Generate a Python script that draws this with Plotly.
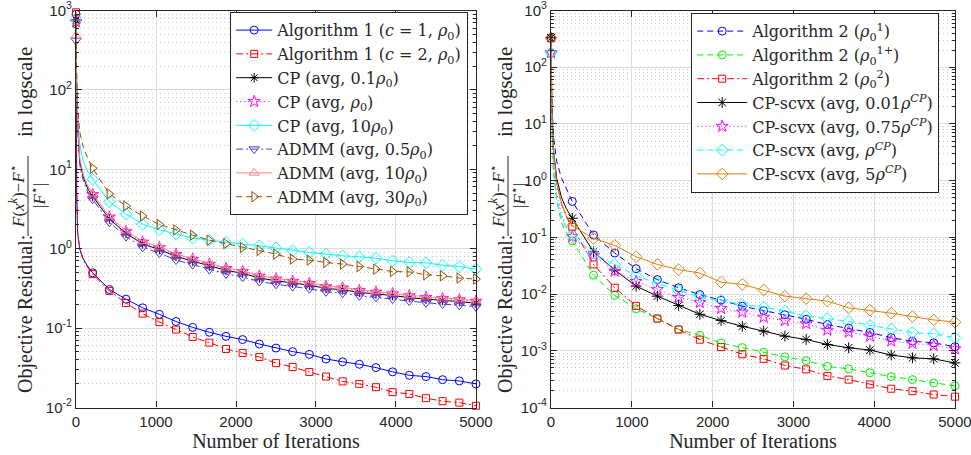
import plotly.graph_objects as go
from plotly.subplots import make_subplots

# ---------------- left panel: Algorithm 1 vs CP vs ADMM ----------------
# iterations where markers are drawn, plus a few early iterations for the steep drop
MARK_X_L = [0, 208, 417, 625, 833, 1042, 1250, 1458, 1667, 1875, 2083, 2292, 2500,
            2708, 2917, 3125, 3333, 3542, 3750, 3958, 4167, 4375, 4583, 4792, 5000]
EARLY_X_L = [3, 8, 20, 45, 90, 150]

alg1_c1 = [900, 0.497, 0.306, 0.231, 0.18, 0.149, 0.121, 0.102, 0.0885, 0.0787, 0.0716, 0.063, 0.056,
           0.0505, 0.0467, 0.0408, 0.0376, 0.035, 0.0318, 0.0281, 0.0254, 0.0245, 0.0224, 0.0216, 0.0198]
alg1_c1_early = [60, 5, 1.6, 1.0, 0.74, 0.59]
alg1_c2 = [950, 0.478, 0.294, 0.207, 0.152, 0.119, 0.0957, 0.0773, 0.0656, 0.0545, 0.0485, 0.0432, 0.0362,
           0.0323, 0.028, 0.0245, 0.0213, 0.0198, 0.018, 0.0156, 0.0148, 0.0131, 0.012, 0.0115, 0.0105]
alg1_c2_early = [70, 5.5, 1.6, 1.0, 0.72, 0.57]
cp_01 = [760, 4.55, 2.37, 1.56, 1.15, 0.975, 0.8, 0.698, 0.605, 0.534, 0.489, 0.428, 0.394,
         0.368, 0.347, 0.316, 0.304, 0.282, 0.27, 0.257, 0.242, 0.231, 0.223, 0.216, 0.206]
cp_01_early = [280, 110, 38, 13, 8.0, 5.6]
cp_1 = [720, 4.8, 2.5, 1.64, 1.21, 1.03, 0.845, 0.735, 0.637, 0.563, 0.515, 0.451, 0.415,
        0.388, 0.365, 0.333, 0.32, 0.297, 0.284, 0.27, 0.255, 0.243, 0.235, 0.227, 0.218]
cp_1_early = [250, 105, 40, 13.5, 8.4, 5.9]
cp_10 = [790, 7.5, 3.9, 2.73, 2.04, 1.73, 1.53, 1.36, 1.28, 1.2, 1.14, 1.09, 1.02,
         0.94, 0.896, 0.855, 0.813, 0.79, 0.76, 0.703, 0.67, 0.664, 0.621, 0.596, 0.553]
cp_10_early = [300, 140, 55, 21, 12.5, 9.2]
admm_05 = [420, 4.2, 2.15, 1.42, 1.04, 0.88, 0.72, 0.63, 0.545, 0.482, 0.44, 0.386, 0.356,
           0.333, 0.313, 0.286, 0.275, 0.255, 0.244, 0.232, 0.218, 0.208, 0.2, 0.194, 0.185]
admm_05_early = [170, 85, 32, 11.5, 7.2, 5.1]
admm_10 = [480, 4.9, 2.55, 1.68, 1.24, 1.05, 0.86, 0.75, 0.65, 0.574, 0.526, 0.46, 0.424,
           0.396, 0.373, 0.34, 0.327, 0.303, 0.29, 0.276, 0.26, 0.248, 0.24, 0.232, 0.222]
admm_10_early = [200, 100, 40, 14, 8.6, 6.0]
admm_30 = [700, 10.3, 4.9, 3.45, 2.57, 2.02, 1.72, 1.48, 1.28, 1.16, 1.035, 0.95, 0.855,
           0.74, 0.718, 0.67, 0.64, 0.596, 0.553, 0.516, 0.511, 0.469, 0.455, 0.426, 0.414]
admm_30_early = [320, 160, 65, 30, 19, 13.5]

# ---------------- right panel: Algorithm 2 vs CP-scvx ----------------
MARK_X_R = [0, 263, 526, 789, 1053, 1316, 1579, 1842, 2105, 2368,
            2632, 2895, 3158, 3421, 3684, 3947, 4211, 4474, 4737, 5000]
EARLY_X_R = [3, 10, 30, 70, 130, 190]

alg2_1 = [320, 0.43, 0.11, 0.053, 0.028, 0.018, 0.0129, 0.0098, 0.0078, 0.0061,
          0.0051, 0.0043, 0.0036, 0.0029, 0.0025, 0.0021, 0.0017, 0.00148, 0.00138, 0.00118]
alg2_1_early = [120, 25, 6, 2.2, 1.1, 0.7]
alg2_1p = [175, 0.087, 0.0215, 0.0095, 0.0055, 0.0037, 0.0024, 0.00187, 0.00137, 0.00114,
           0.00094, 0.00078, 0.00067, 0.00053, 0.00048, 0.00041, 0.00035, 0.00031, 0.00027, 0.00024]
alg2_1p_early = [50, 8, 1.4, 0.45, 0.18, 0.12]
alg2_2 = [330, 0.154, 0.0333, 0.0129, 0.0062, 0.0037, 0.00236, 0.00157, 0.00116, 0.00087,
          0.00072, 0.00055, 0.00047, 0.00036, 0.00031, 0.000255, 0.000214, 0.000194, 0.000169, 0.000155]
alg2_2_early = [90, 15, 3.0, 0.9, 0.38, 0.23]
scvx_001 = [330, 0.217, 0.0557, 0.0265, 0.0138, 0.0092, 0.0063, 0.0044, 0.0034, 0.0027,
            0.00222, 0.00181, 0.00158, 0.00129, 0.00113, 0.00103, 0.00084, 0.00075, 0.00072, 0.00061]
scvx_001_early = [100, 18, 3.5, 1.1, 0.5, 0.32]
scvx_075 = [180, 0.103, 0.0486, 0.0254, 0.0167, 0.012, 0.0087, 0.0071, 0.0056, 0.0048,
            0.0039, 0.0034, 0.003, 0.0023, 0.00213, 0.00181, 0.00148, 0.00135, 0.00124, 0.00108]
scvx_075_early = [60, 10, 2.0, 0.6, 0.25, 0.15]
scvx_1 = [180, 0.11, 0.052, 0.0333, 0.021, 0.0155, 0.0115, 0.0088, 0.0077, 0.0065,
          0.0059, 0.005, 0.0041, 0.0037, 0.0033, 0.0028, 0.0024, 0.0021, 0.002, 0.0017]
scvx_1_early = [50, 8, 1.5, 0.48, 0.22, 0.145]
scvx_5 = [330, 0.16, 0.096, 0.072, 0.0455, 0.0333, 0.027, 0.0235, 0.0162, 0.0148,
          0.0118, 0.0092, 0.0083, 0.0075, 0.0057, 0.0052, 0.0046, 0.004, 0.0035, 0.0032]
scvx_5_early = [110, 20, 3.5, 0.9, 0.4, 0.24]

W, H = 971, 455
SERIF = 'Liberation Serif'
LEG_FONT = 'DejaVu Serif'
SANS = 'Liberation Sans'
INK = '#262626'

DASH = '6px,4px'
DASHDOT = '7px,3px,2px,3px'
DOT = '1px,3px'


def px(x):
    return x / W


def py(y):
    return 1 - y / H


fig = make_subplots(rows=1, cols=2)


def add_series(col, legend, name, mx, my, ex, ey, color, dash, symbol, size):
    # dense line (start point, early drop, then marker points)
    fig.add_trace(go.Scatter(
        x=[mx[0]] + ex + mx[1:], y=[my[0]] + ey + my[1:],
        mode='lines', line=dict(color=color, width=1, dash=dash),
        showlegend=False, hoverinfo='skip'
    ), row=1, col=col)
    mk = dict(symbol=symbol, size=size, color=color, line=dict(color=color, width=1))
    fig.add_trace(go.Scatter(
        x=mx, y=my, mode='markers', marker=mk, cliponaxis=False,
        showlegend=False, name=name
    ), row=1, col=col)
    # legend entry
    fig.add_trace(go.Scatter(
        x=[None], y=[None], mode='lines+markers', name=name, legend=legend,
        line=dict(color=color, width=1, dash=dash), marker=mk
    ), row=1, col=col)


r0 = '<i>ρ</i><sub>0</sub>'
rcp = '<i>ρ</i><sup><i>CP</i></sup>'

add_series(1, 'legend', f'Algorithm 1 (<i>c</i> = 1, {r0})', MARK_X_L, alg1_c1, EARLY_X_L, alg1_c1_early,
           '#0000FF', 'solid', 'circle-open', 8)
add_series(1, 'legend', f'Algorithm 1 (<i>c</i> = 2, {r0})', MARK_X_L, alg1_c2, EARLY_X_L, alg1_c2_early,
           '#FF0000', DASHDOT, 'square-open', 7)
add_series(1, 'legend', f'CP (avg, 0.1{r0})', MARK_X_L, cp_01, EARLY_X_L, cp_01_early,
           '#000000', 'solid', 'asterisk-open', 8)
add_series(1, 'legend', f'CP (avg, {r0})', MARK_X_L, cp_1, EARLY_X_L, cp_1_early,
           '#FF00FF', DOT, 'star-open', 9)
add_series(1, 'legend', f'CP (avg, 10{r0})', MARK_X_L, cp_10, EARLY_X_L, cp_10_early,
           '#00FFFF', 'solid', 'diamond-open', 9)
add_series(1, 'legend', f'ADMM (avg, 0.5{r0})', MARK_X_L, admm_05, EARLY_X_L, admm_05_early,
           '#4040C0', DASHDOT, 'triangle-down-open', 9)
add_series(1, 'legend', f'ADMM (avg, 10{r0})', MARK_X_L, admm_10, EARLY_X_L, admm_10_early,
           '#FF8080', 'solid', 'triangle-up-open', 9)
add_series(1, 'legend', f'ADMM (avg, 30{r0})', MARK_X_L, admm_30, EARLY_X_L, admm_30_early,
           '#994D00', DASH, 'triangle-right-open', 9)

add_series(2, 'legend2', f'Algorithm 2 (<i>ρ</i><sub>0</sub><sup>1</sup>)', MARK_X_R, alg2_1, EARLY_X_R, alg2_1_early,
           '#0000FF', DASH, 'circle-open', 8)
add_series(2, 'legend2', f'Algorithm 2 (<i>ρ</i><sub>0</sub><sup>1+</sup>)', MARK_X_R, alg2_1p, EARLY_X_R, alg2_1p_early,
           '#00EE00', DASH, 'circle-open', 8)
add_series(2, 'legend2', f'Algorithm 2 (<i>ρ</i><sub>0</sub><sup>2</sup>)', MARK_X_R, alg2_2, EARLY_X_R, alg2_2_early,
           '#FF0000', DASHDOT, 'square-open', 7)
add_series(2, 'legend2', f'CP-scvx (avg, 0.01{rcp})', MARK_X_R, scvx_001, EARLY_X_R, scvx_001_early,
           '#000000', 'solid', 'asterisk-open', 9)
add_series(2, 'legend2', f'CP-scvx (avg, 0.75{rcp})', MARK_X_R, scvx_075, EARLY_X_R, scvx_075_early,
           '#FF00FF', DOT, 'star-open', 9)
add_series(2, 'legend2', f'CP-scvx (avg, {rcp})', MARK_X_R, scvx_1, EARLY_X_R, scvx_1_early,
           '#00FFFF', DASH, 'diamond-open', 9)
add_series(2, 'legend2', f'CP-scvx (avg, 5{rcp})', MARK_X_R, scvx_5, EARLY_X_R, scvx_5_early,
           '#E08010', 'solid', 'diamond-open', 9)


def log_axis(lo, hi):
    vals = [10.0 ** p for p in range(lo, hi + 1)]
    text = ['10<sup>%d</sup>' % p for p in range(lo, hi + 1)]
    minor_vals = [m * 10.0 ** p for p in range(lo, hi) for m in range(2, 10)]
    return dict(
        type='log', range=[lo - 0.0005, hi + 0.0005], tickmode='array', tickvals=vals, ticktext=text,
        ticks='inside', ticklen=6, tickcolor=INK, showline=True, linecolor=INK, linewidth=1.3,
        mirror='ticks', showgrid=True, gridcolor='#DCDCDC', gridwidth=1, zeroline=False,
        tickfont=dict(family=SANS, size=15, color=INK), ticklabeloverflow='allow',
        minor=dict(tickmode='array', tickvals=minor_vals, ticks='inside', ticklen=3, tickcolor=INK,
                   showgrid=True, gridcolor='#C8C8C8', griddash='1px,3px', gridwidth=1),
    )


def iter_axis():
    return dict(
        range=[-0.5, 5000.5], tickmode='array', tickvals=[0, 1000, 2000, 3000, 4000, 5000],
        ticks='inside', ticklen=6, tickcolor=INK, showline=True, linecolor=INK, linewidth=1.3,
        mirror='ticks', showgrid=True, gridcolor='#DCDCDC', gridwidth=1, zeroline=False,
        tickfont=dict(family=SANS, size=15, color=INK), ticklabeloverflow='allow',
        title=dict(text='Number of Iterations', font=dict(family=SERIF, size=20, color=INK), standoff=4),
    )


ytop, ybot = py(10.5), py(407.5)
fig.update_layout(
    width=W, height=H, template='none',
    margin=dict(l=0, r=0, t=0, b=0),
    paper_bgcolor='white', plot_bgcolor='white',
    xaxis=dict(iter_axis(), domain=[px(76), px(476)]),
    xaxis2=dict(iter_axis(), domain=[px(551), px(955)]),
    yaxis=dict(log_axis(-2, 3), domain=[ybot, ytop]),
    yaxis2=dict(log_axis(-4, 3), domain=[ybot, ytop]),
    legend=dict(x=px(230), y=py(12), xanchor='left', yanchor='top', bgcolor='white',
                bordercolor=INK, borderwidth=1.2, itemwidth=36,
                font=dict(family=LEG_FONT, size=16, color=INK)),
    legend2=dict(x=px(691), y=py(13), xanchor='left', yanchor='top', bgcolor='white',
                 bordercolor=INK, borderwidth=1.2, itemwidth=50,
                 font=dict(family=LEG_FONT, size=16, color=INK)),
)

# y-axis titles: "Objective Residual: (F(x^k)-F*)/|F*| in logscale", drawn as rotated pieces
num = '<i>F</i>(<i>x</i><sup><i>k</i></sup>)−<i>F</i><sup>⋆</sup>'
den = '|<i>F</i><sup>⋆</sup>|'
for x0 in (0, 480):
    pieces = [
        ('Objective Residual:', x0 + 25, 314, 20),
        (num, x0 + 17, 196, 17),
        (den, x0 + 38, 196, 17),
        ('in logscale', x0 + 25, 92, 21),
    ]
    for text, ax_, ay_, size in pieces:
        fig.add_annotation(text=text, x=px(ax_), y=py(ay_), xref='paper', yref='paper',
                           xanchor='center', yanchor='middle', textangle=-90, showarrow=False,
                           font=dict(family=SERIF, size=size, color=INK))
    fig.add_shape(type='line', xref='paper', yref='paper',
                  x0=px(x0 + 28), x1=px(x0 + 28), y0=py(156), y1=py(236),
                  line=dict(color=INK, width=1))

fig.write_html("out.html", config={'displayModeBar': False},
               post_script="document.body.style.margin='0px';")
